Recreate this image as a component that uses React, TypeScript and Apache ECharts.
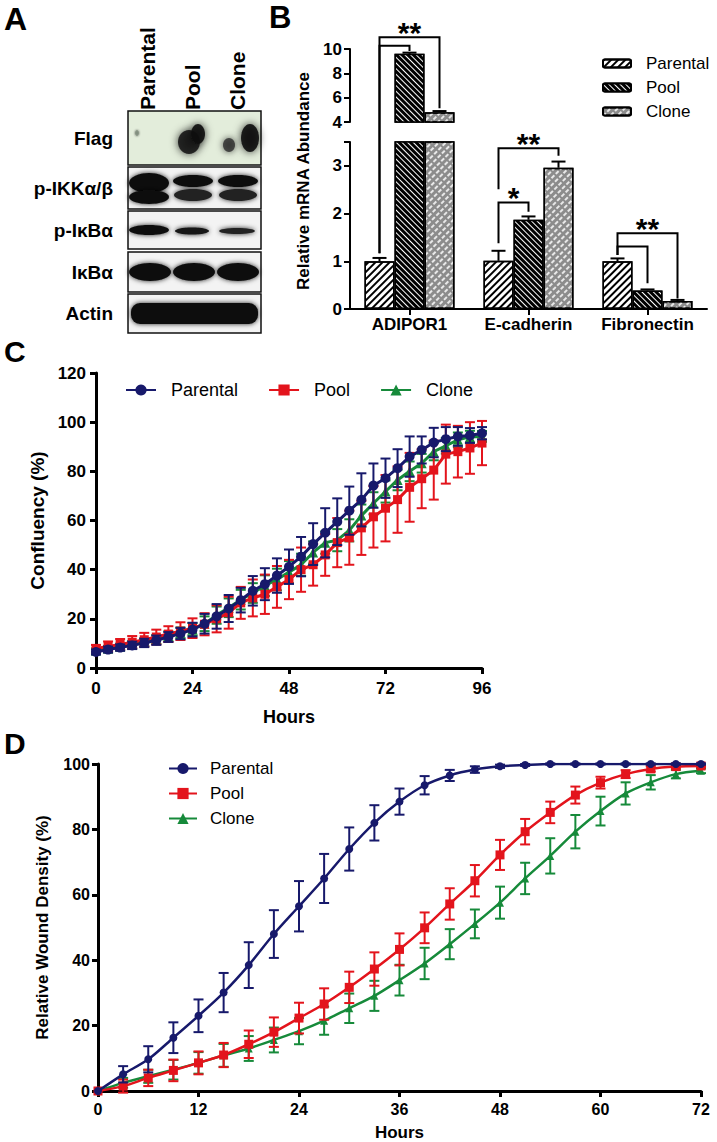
import { useEffect, useRef } from 'react';
import * as echarts from 'echarts';

const FONT = '"Liberation Sans", Arial, Helvetica, sans-serif';
const NAVY = '#17196b';
const RED = '#e3141c';
const GREEN = '#168a3a';

// ---------- Panel A (western blot) ----------
const BLOT_LANES = ['Parental', 'Pool', 'Clone'];
const BLOT_ROWS = ['Flag', 'p-IKKα/β', 'p-IκBα', 'IκBα', 'Actin'];

// ---------- Panel B ----------
const B_GENES = ['ADIPOR1', 'E-cadherin', 'Fibronectin'];
const B_GROUPS = ['Parental', 'Pool', 'Clone'];
const B_PARENTAL = [1.0, 1.01, 1.0];
const B_PARENTAL_ERR = [0.07, 0.21, 0.06];
const B_POOL = [9.6, 1.87, 0.39];
const B_POOL_ERR = [0.1, 0.07, 0.02];
const B_CLONE = [4.8, 2.96, 0.17];
const B_CLONE_ERR = [0.1, 0.13, 0.02];
const B_UPPER_TICKS = [4, 6, 8, 10];
const B_LOWER_TICKS = [0, 1, 2, 3];
const BRACKETS = [
  { cat: 0, to: 2, level: 10.96, leftEnd: 1.17, rightEnd: 5.13, label: '**' },
  { cat: 0, to: 1, level: 10.27, leftEnd: 1.17, rightEnd: 9.84, label: '' },
  { cat: 1, to: 2, level: 3.37, leftEnd: 2.51, rightEnd: 3.21, label: '**' },
  { cat: 1, to: 1, level: 2.23, leftEnd: 1.38, rightEnd: 2.04, label: '*' },
  { cat: 2, to: 2, level: 1.59, leftEnd: 1.13, rightEnd: 0.22, label: '**' },
  { cat: 2, to: 1, level: 1.31, leftEnd: 1.13, rightEnd: 0.54, label: '' },
];

// ---------- Panel C ----------
const C_HOURS = [0, 3, 6, 9, 12, 15, 18, 21, 24, 27, 30, 33, 36, 39, 42, 45, 48, 51, 54, 57, 60, 63, 66, 69, 72, 75, 78, 81, 84, 87, 90, 93, 96];
const C_PARENTAL = [6.5, 7.5, 8.3, 9.2, 10.2, 11.3, 12.6, 14, 15.6, 18, 21, 24.2, 27.6, 31.4, 34.1, 37.6, 41.2, 45.3, 50.4, 55, 59.5, 64, 68.4, 74.2, 77.2, 81.3, 86, 88.7, 91.7, 93.1, 94.2, 94.6, 95.5];
const C_PARENTAL_ERR = [1, 1.2, 1.3, 1.5, 1.7, 1.9, 2, 2.3, 2.8, 4, 5, 5.5, 5, 6, 6.5, 7, 7, 8, 8.5, 10, 9.5, 9.8, 10.8, 9, 8, 7.7, 8.2, 5.5, 6, 4.9, 3.8, 3, 2.5];
const C_POOL = [7.9, 8.8, 9.6, 10.5, 11.5, 12.6, 13.8, 15, 16.2, 17.8, 20, 22.5, 26.5, 28.5, 30, 33, 36, 40, 42, 46, 51, 53, 57, 61.5, 65, 68.5, 73.5, 77, 80.5, 87, 88, 89.5, 91.5];
const C_POOL_ERR = [1.5, 2, 2.2, 2.5, 2.8, 3, 3.2, 3.6, 4, 4.5, 5.5, 6.5, 6.5, 7.5, 8, 8.5, 8, 9, 8.5, 8.5, 10, 11, 11, 12.5, 13.5, 13.5, 14, 12, 12, 12, 10.5, 10.5, 9];
const C_CLONE = [7, 7.8, 8.6, 9.5, 10.5, 11.6, 12.9, 14.3, 15.8, 18, 21.5, 24.5, 27.8, 30.5, 33.5, 36, 39, 42, 47, 51, 52, 56, 62, 67, 71.8, 76.5, 80, 83.3, 88, 90.4, 92.8, 94, 94.2];
const C_CLONE_ERR = [1, 1.2, 1.3, 1.5, 1.6, 1.8, 2, 2.2, 2.5, 3, 3.5, 3.8, 4, 4, 4.2, 4.4, 4.5, 4.5, 4.5, 4.5, 4.5, 4.5, 4.5, 4.5, 4.5, 4.2, 4, 3.8, 3.5, 3.2, 3, 2.5, 2.2];

// ---------- Panel D ----------
const D_HOURS = [0, 3, 6, 9, 12, 15, 18, 21, 24, 27, 30, 33, 36, 39, 42, 45, 48, 51, 54, 57, 60, 63, 66, 69, 72];
const D_PARENTAL = [0, 5.1, 9.7, 16.3, 23, 30.1, 38.5, 48, 56.5, 65, 74, 82, 88.5, 93.5, 96.5, 98.3, 99.3, 99.7, 100, 100, 100, 100, 100, 100, 100];
const D_PARENTAL_ERR = [0, 2.5, 4, 4.7, 5, 6, 7, 7.3, 7.7, 7.5, 6.6, 5.4, 4, 2.8, 1.7, 1, 0.5, 0.3, 0.2, 0.2, 0.2, 0.2, 0.2, 0.2, 0.2];
const D_POOL = [0, 1.5, 4, 6.3, 8.6, 11, 14.3, 18, 22.3, 26.6, 31.7, 37.3, 43.3, 49.9, 57.2, 64.3, 72.2, 79.3, 85.2, 90.5, 94.3, 96.9, 98.5, 99.2, 99.4];
const D_POOL_ERR = [0, 2, 2.5, 3.3, 3.5, 3.7, 4.2, 4.5, 4.7, 4.8, 4.8, 5.1, 4.9, 4.7, 4.8, 4.8, 4.6, 3.9, 3.3, 2.6, 1.8, 1.2, 0.8, 0.5, 0.3];
const D_CLONE = [0, 2.5, 4.5, 6.5, 8.6, 10.9, 13, 15.6, 18.3, 21.5, 25.3, 29.1, 33.9, 39, 44.9, 51.1, 57.6, 65, 71.9, 79.3, 85.6, 91, 94.4, 96.9, 97.9];
const D_CLONE_ERR = [0, 1.5, 2, 3, 3.3, 3.5, 3.8, 3.8, 4, 4.3, 4.5, 4.6, 4.7, 4.8, 4.6, 4.4, 4.9, 4.8, 5.4, 5.1, 4.4, 3.4, 2.2, 1.3, 0.7];

const BAR_W = 30;

const DECALS: Record<string, any> = {
  Parental: { symbol: 'rect', symbolSize: 1, dashArrayX: [1, 0], dashArrayY: [1.6, 2.2], rotation: -Math.PI / 4, color: '#000', backgroundColor: '#fff' },
  Pool: { symbol: 'rect', symbolSize: 1, dashArrayX: [1, 0], dashArrayY: [1, 2.6], rotation: Math.PI / 4, color: '#fff', backgroundColor: '#000' },
  Clone: { symbol: 'rect', symbolSize: 1, dashArrayX: [4, 1.5], dashArrayY: [1.6, 2.2], rotation: -Math.PI / 4, color: '#e8e8e8', backgroundColor: '#8c8c8c' },
};
const B_FILL: Record<string, string> = { Parental: '#fff', Pool: '#000', Clone: '#8c8c8c' };

function axisStyle(fs: number, lw: number, margin: number) {
  return {
    axisLine: { show: true, onZero: false, lineStyle: { color: '#000', width: lw } },
    axisTick: { show: true, length: 6, lineStyle: { color: '#000', width: lw } },
    axisLabel: { color: '#000', fontSize: fs, fontWeight: 'bold', fontFamily: FONT, margin },
    splitLine: { show: false },
  };
}

function errRenderer(color: string, cap: number, lw: number) {
  return (_p: any, api: any) => {
    const x = api.value(0), v = api.value(1), e = api.value(2);
    if (!e) return { type: 'group', children: [] };
    const hi = api.coord([x, v + e]);
    const lo = api.coord([x, v - e]);
    const st = { stroke: color, lineWidth: lw };
    return {
      type: 'group',
      children: [
        { type: 'line', shape: { x1: hi[0], y1: hi[1], x2: lo[0], y2: lo[1] }, style: st },
        { type: 'line', shape: { x1: hi[0] - cap, y1: hi[1], x2: hi[0] + cap, y2: hi[1] }, style: st },
        { type: 'line', shape: { x1: lo[0] - cap, y1: lo[1], x2: lo[0] + cap, y2: lo[1] }, style: st },
      ],
    };
  };
}

function barErrRenderer(_p: any, api: any) {
  const c = api.value(0), b = api.value(1), v = api.value(2), e = api.value(3);
  const p0 = api.coord([c, v]);
  const p1 = api.coord([c, v + e]);
  const x = p0[0] + (b - 1) * BAR_W;
  const st = { stroke: '#000', lineWidth: 2 };
  return {
    type: 'group',
    children: [
      { type: 'line', shape: { x1: x, y1: p0[1], x2: x, y2: p1[1] }, style: st },
      { type: 'line', shape: { x1: x - 7, y1: p1[1], x2: x + 7, y2: p1[1] }, style: st },
    ],
  };
}

function buildOption() {
  const bVals: Record<string, number[]> = { Parental: B_PARENTAL, Pool: B_POOL, Clone: B_CLONE };
  const bErrs: Record<string, number[]> = { Parental: B_PARENTAL_ERR, Pool: B_POOL_ERR, Clone: B_CLONE_ERR };
  const series: any[] = [];
  [1, 0].forEach((axisIdx) => {
    B_GROUPS.forEach((g) => {
      series.push({
        type: 'bar',
        name: 'B-' + g,
        xAxisIndex: axisIdx,
        yAxisIndex: axisIdx,
        data: bVals[g].map((v) => (axisIdx === 0 ? (v >= 4 ? v : '-') : v)),
        barWidth: BAR_W,
        barGap: '0%',
        itemStyle: { color: B_FILL[g], borderColor: '#000', borderWidth: 1.5, decal: DECALS[g] },
        silent: true,
      });
    });
  });
  const lowErr: any[] = [];
  const upErr: any[] = [];
  B_GROUPS.forEach((g, b) => {
    bVals[g].forEach((v, c) => {
      const row = [c, b, v, bErrs[g][c]];
      if (v >= 4) upErr.push(row);
      else lowErr.push(row);
    });
  });
  series.push({ type: 'custom', name: 'B-err-low', xAxisIndex: 1, yAxisIndex: 1, data: lowErr, encode: { x: 0, y: 2 }, renderItem: barErrRenderer, z: 5, silent: true });
  series.push({ type: 'custom', name: 'B-err-up', xAxisIndex: 0, yAxisIndex: 0, data: upErr, encode: { x: 0, y: 2 }, renderItem: barErrRenderer, z: 5, silent: true });

  const panels = [
    {
      key: 'C', axis: 2, hours: C_HOURS, lw: 3, smooth: false, sizes: [10, 9, 10], cap: 5, elw: 2,
      groups: [
        { g: 'Clone', v: C_CLONE, e: C_CLONE_ERR, color: GREEN, symbol: 'triangle' },
        { g: 'Pool', v: C_POOL, e: C_POOL_ERR, color: RED, symbol: 'rect' },
        { g: 'Parental', v: C_PARENTAL, e: C_PARENTAL_ERR, color: NAVY, symbol: 'circle' },
      ],
    },
    {
      key: 'D', axis: 3, hours: D_HOURS, lw: 2.5, smooth: 0.3, sizes: [8, 9, 8], cap: 5, elw: 2,
      groups: [
        { g: 'Clone', v: D_CLONE, e: D_CLONE_ERR, color: GREEN, symbol: 'triangle' },
        { g: 'Pool', v: D_POOL, e: D_POOL_ERR, color: RED, symbol: 'rect' },
        { g: 'Parental', v: D_PARENTAL, e: D_PARENTAL_ERR, color: NAVY, symbol: 'circle' },
      ],
    },
  ];
  panels.forEach((p) => {
    p.groups.forEach((gr, k) => {
      series.push({
        type: 'custom',
        name: p.key + '-' + gr.g + '-err',
        xAxisIndex: p.axis,
        yAxisIndex: p.axis,
        data: p.hours.map((h, i) => [h, gr.v[i], gr.e[i]]),
        encode: { x: 0, y: 1 },
        renderItem: errRenderer(gr.color, p.cap, p.elw),
        z: 2 + k * 2,
        silent: true,
      });
      series.push({
        type: 'line',
        name: p.key + '-' + gr.g,
        xAxisIndex: p.axis,
        yAxisIndex: p.axis,
        data: p.hours.map((h, i) => [h, gr.v[i]]),
        symbol: gr.symbol,
        symbolSize: gr.symbol === 'triangle' ? p.sizes[0] : gr.symbol === 'rect' ? p.sizes[1] : p.sizes[2],
        smooth: p.smooth,
        lineStyle: { color: gr.color, width: p.lw },
        itemStyle: { color: gr.color },
        z: 3 + k * 2,
        silent: true,
      });
    });
  });

  const nameStyle = (fs: number) => ({ color: '#000', fontSize: fs, fontWeight: 'bold', fontFamily: FONT });

  return {
    animation: false,
    backgroundColor: '#fff',
    grid: [
      { left: 350, top: 49, width: 357, height: 73 },
      { left: 350, top: 142, width: 357, height: 167 },
      { left: 96, top: 373, width: 386, height: 295 },
      { left: 98, top: 764, width: 603, height: 327 },
    ],
    xAxis: [
      { gridIndex: 0, type: 'category', data: B_GENES, show: false },
      {
        gridIndex: 1, type: 'category', data: B_GENES, ...axisStyle(17, 2, 7),
        axisLabel: { color: '#000', fontSize: 17, fontWeight: 'bold', fontFamily: FONT, margin: 7, interval: 0 },
        axisTick: { show: true, alignWithLabel: true, length: 6, lineStyle: { color: '#000', width: 2 } },
      },
      {
        gridIndex: 2, type: 'value', min: 0, max: 96, interval: 24, ...axisStyle(17, 3, 12),
        name: 'Hours', nameLocation: 'middle', nameGap: 40, nameTextStyle: nameStyle(18),
      },
      {
        gridIndex: 3, type: 'value', min: 0, max: 72, interval: 12, ...axisStyle(16, 3, 10),
        name: 'Hours', nameLocation: 'middle', nameGap: 33, nameTextStyle: nameStyle(17),
      },
    ],
    yAxis: [
      {
        gridIndex: 0, type: 'value', min: B_UPPER_TICKS[0], max: B_UPPER_TICKS[B_UPPER_TICKS.length - 1], interval: 2, ...axisStyle(17, 2, 8),
      },
      {
        gridIndex: 1, type: 'value', min: B_LOWER_TICKS[0], max: 3.5, interval: 1, ...axisStyle(17, 2, 8),
        axisLabel: {
          color: '#000', fontSize: 17, fontWeight: 'bold', fontFamily: FONT, margin: 8,
          formatter: (v: number) => (B_LOWER_TICKS.indexOf(v) >= 0 ? String(v) : ''),
        },
      },
      {
        gridIndex: 2, type: 'value', min: 0, max: 120, interval: 20, ...axisStyle(17, 3, 10),
        name: 'Confluency (%)', nameLocation: 'middle', nameGap: 49, nameTextStyle: nameStyle(19),
      },
      {
        gridIndex: 3, type: 'value', min: 0, max: 100, interval: 20, ...axisStyle(16, 3, 8),
        name: 'Relative Wound Density (%)', nameLocation: 'middle', nameGap: 47, nameTextStyle: nameStyle(17),
      },
    ],
    legend: [
      {
        data: B_GROUPS.map((g) => 'B-' + g), orient: 'vertical', left: 597, top: 50,
        itemWidth: 28, itemHeight: 8, itemGap: 7, selectedMode: false,
        formatter: (n: string) => n.slice(2),
        textStyle: { color: '#000', fontSize: 17, fontFamily: FONT, padding: [0, 0, 0, 10] },
      },
      {
        data: ['Parental', 'Pool', 'Clone'].map((g) => 'C-' + g), orient: 'horizontal', left: 120, top: 376,
        itemWidth: 30, itemHeight: 14, itemGap: 30, selectedMode: false,
        formatter: (n: string) => n.slice(2),
        textStyle: { color: '#000', fontSize: 18, fontFamily: FONT, padding: [0, 0, 0, 10] },
      },
      {
        data: ['Parental', 'Pool', 'Clone'].map((g) => 'D-' + g), orient: 'vertical', left: 163, top: 755,
        itemWidth: 28, itemHeight: 14, itemGap: 8, selectedMode: false,
        formatter: (n: string) => n.slice(2),
        textStyle: { color: '#000', fontSize: 17, fontFamily: FONT, padding: [0, 0, 0, 8] },
      },
    ],
    series,
  };
}

function blotGraphics() {
  const els: any[] = [];
  const BOX_L = 128, BOX_W = 133;
  const rows = [
    { top: 111, h: 54 }, { top: 167, h: 42 }, { top: 211, h: 38 }, { top: 252, h: 40 }, { top: 294, h: 39 },
  ];
  const laneX = [148, 193, 238];
  BLOT_LANES.forEach((l, i) => {
    els.push({ type: 'text', x: laneX[i] - 1, y: 110, rotation: Math.PI / 2, style: { text: l, font: `bold 21px ${FONT}`, fill: '#000', align: 'left', verticalAlign: 'middle' } });
  });
  rows.forEach((r, i) => {
    els.push({ type: 'rect', shape: { x: BOX_L, y: r.top, width: BOX_W, height: r.h }, style: { fill: i === 0 ? '#e3eddb' : '#f3f3f3', stroke: '#111', lineWidth: 1.5 } });
    els.push({ type: 'text', x: 113, y: r.top + r.h / 2, style: { text: BLOT_ROWS[i], font: `bold 19px ${FONT}`, fill: '#000', align: 'right', verticalAlign: 'middle' } });
  });
  const band = (cx: number, cy: number, rx: number, ry: number, fill = '#0b0b0b', blur = 5, op = 1) => ({
    type: 'ellipse', shape: { cx, cy, rx, ry }, style: { fill, opacity: op, shadowBlur: blur, shadowColor: 'rgba(0,0,0,0.85)' },
  });
  // Flag (soft, blotchy)
  els.push(band(137, 133, 2, 3, '#7d8a7a', 2, 0.7));
  els.push(band(189, 142, 11, 12, '#1a1a1a', 9, 0.9));
  els.push(band(198, 134, 7, 10, '#111', 8, 0.9));
  els.push(band(250, 138, 9, 14, '#111', 9, 0.9));
  els.push(band(229, 145, 6, 7, '#2a2a2a', 7, 0.8));
  // p-IKK
  els.push(band(149, 183, 20, 10));
  els.push(band(149, 197, 20, 7));
  els.push(band(193, 181, 20, 6));
  els.push(band(193, 195, 19, 6, '#222'));
  els.push(band(238, 181, 20, 6));
  els.push(band(238, 195, 19, 6, '#222'));
  // p-IkBa
  els.push(band(149, 230, 20, 5));
  els.push(band(192, 231, 17, 3.5, '#151515'));
  els.push(band(237, 231, 18, 3, '#222'));
  // IkBa
  els.push(band(150, 272, 21, 9));
  els.push(band(194, 272, 21, 9));
  els.push(band(238, 272, 21, 9));
  // Actin
  els.push({ type: 'rect', shape: { x: 131, y: 303, width: 127, height: 21, r: 9 }, style: { fill: '#0b0b0b', shadowBlur: 5, shadowColor: 'rgba(0,0,0,0.85)' } });
  return els;
}

function buildGraphics(chart: any) {
  const els: any[] = [];
  const letter = (t: string, x: number, y: number, fs: number) => ({
    type: 'text', x, y, style: { text: t, font: `bold ${fs}px ${FONT}`, fill: '#000', align: 'left', verticalAlign: 'middle' },
  });
  els.push(letter('A', 4, 19, 32));
  els.push(letter('B', 269, 17, 31));
  els.push(letter('C', 4, 351, 30));
  els.push(letter('D', 4, 743, 30));
  els.push(...blotGraphics());
  els.push({ type: 'text', x: 303, y: 181, rotation: Math.PI / 2, style: { text: 'Relative mRNA Abundance', font: `bold 17px ${FONT}`, fill: '#000', align: 'center', verticalAlign: 'middle' } });
  const px = (cat: number, bar: number, v: number) => {
    const idx = v >= 4 ? 0 : 1;
    const p = chart.convertToPixel({ xAxisIndex: idx, yAxisIndex: idx }, [cat, v]);
    return [p[0] + (bar - 1) * BAR_W, p[1]];
  };
  BRACKETS.forEach((b) => {
    const L = px(b.cat, 0, b.level);
    const R = px(b.cat, b.to, b.level);
    const yl = px(b.cat, 0, b.leftEnd)[1];
    const yr = px(b.cat, b.to, b.rightEnd)[1];
    els.push({ type: 'polyline', shape: { points: [[L[0], yl], [L[0], L[1]], [R[0], R[1]], [R[0], yr]] }, style: { stroke: '#000', lineWidth: 2, fill: null }, z: 10 });
    if (b.label) {
      els.push({ type: 'text', x: (L[0] + R[0]) / 2, y: L[1] - 5, z: 10, style: { text: b.label, font: `bold 30px ${FONT}`, fill: '#000', align: 'center', verticalAlign: 'middle' } });
    }
  });
  return els;
}

export default function App() {
  const ref = useRef<HTMLDivElement>(null);
  useEffect(() => {
    if (!ref.current) return;
    const chart = echarts.init(ref.current, null, { renderer: 'svg', width: 717, height: 1142 });
    chart.setOption(buildOption() as any);
    chart.setOption({ graphic: buildGraphics(chart) } as any);
    return () => chart.dispose();
  }, []);
  return <div ref={ref} style={{ position: 'absolute', left: 0, top: 0, width: 717, height: 1142, background: '#fff' }} />;
}
